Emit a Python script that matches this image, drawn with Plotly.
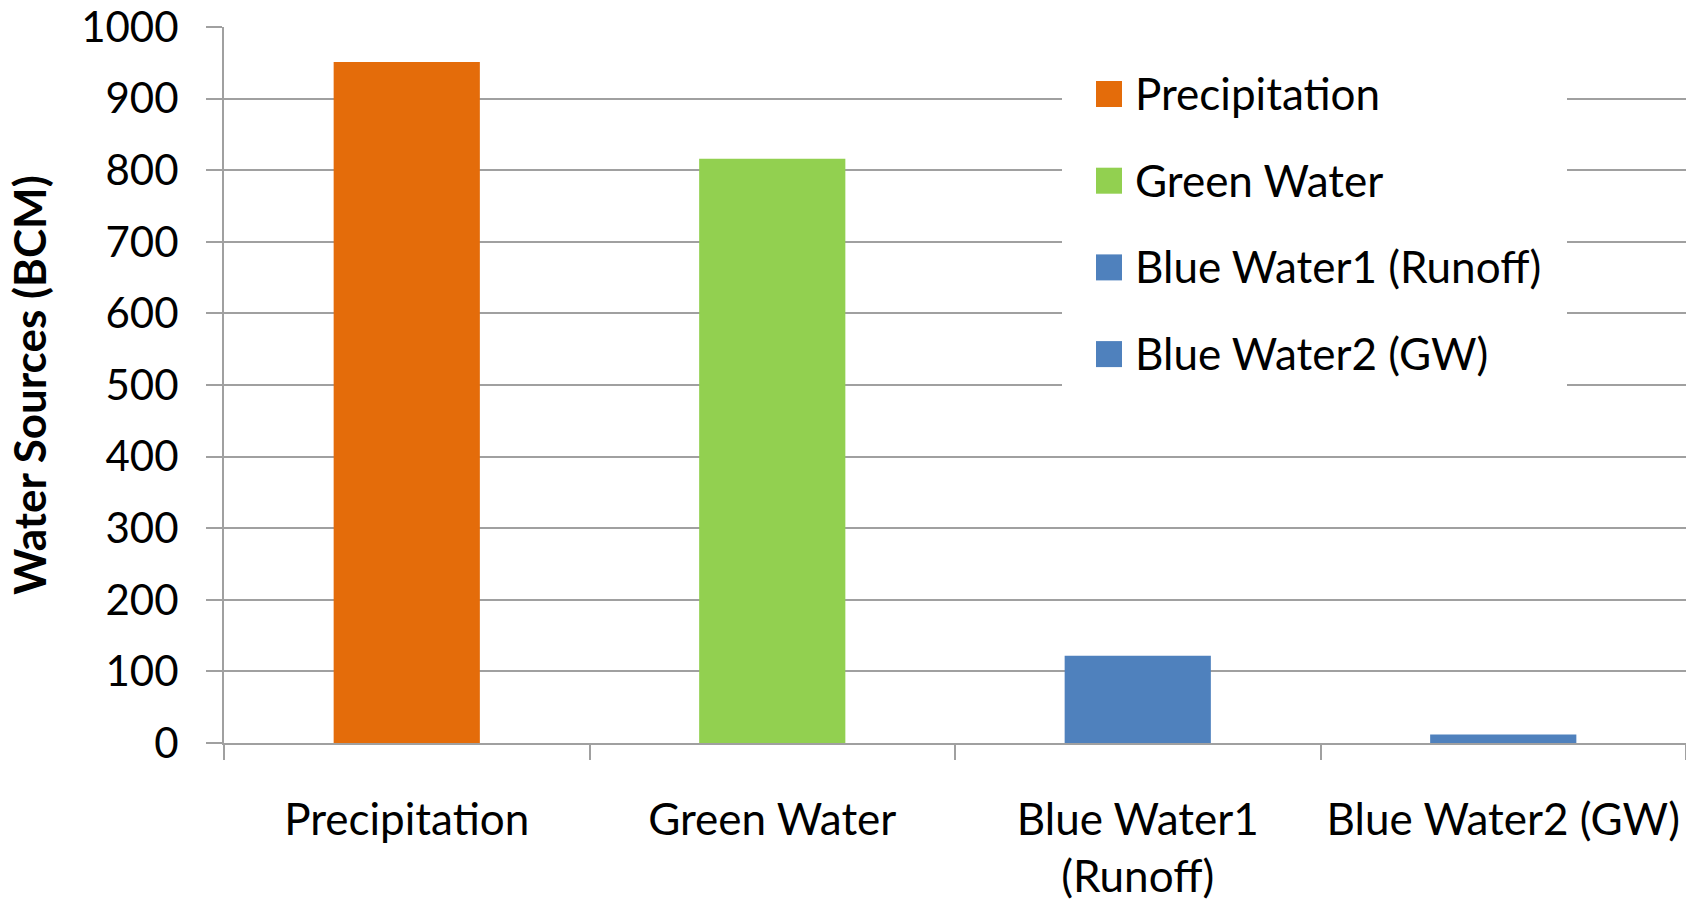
import plotly.graph_objects as go

# Water sources in billion cubic metres (BCM)
categories = ["Precipitation", "Green Water", "Blue Water1 (Runoff)", "Blue Water2 (GW)"]
tick_labels = ["Precipitation", "Green Water", "Blue Water1<br>(Runoff)", "Blue Water2 (GW)"]
values = [951, 816, 122, 12]
colors = ["#E46C0A", "#92D050", "#4F81BD", "#4F81BD"]
y_ticks = [0, 100, 200, 300, 400, 500, 600, 700, 800, 900, 1000]

W, H = 1686, 903
M_L, M_R, M_T, M_B = 224, 0, 27, 160
FONT = "Lato"
GRID = "#A0A0A0"

fig = go.Figure()
fig.add_trace(go.Bar(
    x=categories,
    y=values,
    marker=dict(color=colors, line=dict(width=0)),
    showlegend=False,
    hoverinfo="x+y",
))

fig.update_layout(
    width=W,
    height=H,
    margin=dict(l=M_L, r=M_R, t=M_T, b=M_B, pad=0),
    paper_bgcolor="white",
    plot_bgcolor="white",
    bargap=0.6,
    font=dict(family=FONT, size=44, color="black"),
    showlegend=False,
)

fig.update_xaxes(
    type="category",
    tickmode="array",
    tickvals=categories,
    ticktext=tick_labels,
    tickson="boundaries",
    ticks="outside",
    ticklen=15,
    tickwidth=2,
    tickcolor=GRID,
    showline=True,
    linecolor=GRID,
    linewidth=2,
    showgrid=False,
    tickfont=dict(family=FONT, size=44, color="black"),
    ticklabelstandoff=37,
)

fig.update_yaxes(
    range=[0, 1000],
    tickmode="array",
    tickvals=y_ticks,
    ticks="outside",
    ticklen=16,
    tickwidth=2,
    tickcolor=GRID,
    showline=True,
    linecolor=GRID,
    linewidth=2,
    showgrid=True,
    gridcolor=GRID,
    gridwidth=2,
    zeroline=False,
    tickfont=dict(family=FONT, size=42, color="black"),
    ticklabelstandoff=19,
    title=dict(
        text="<b>Water Sources (BCM)</b>",
        font=dict(family=FONT, size=44, color="black"),
        standoff=21,
    ),
)

# Legend panel: white backing over the gridlines, then one swatch + label per series
plot_w = W - M_L - M_R
plot_h = H - M_T - M_B


def px_x(px):
    return (px - M_L) / plot_w


def px_y(py):
    return (H - M_B - py) / plot_h


fig.add_shape(
    type="rect", xref="paper", yref="paper",
    x0=px_x(1062), x1=px_x(1567), y0=px_y(395), y1=px_y(55),
    fillcolor="white", line=dict(width=0), layer="above",
)

row0, row_step, half = 94, 86.7, 13
for i, (name, col) in enumerate(zip(categories, colors)):
    cy = row0 + i * row_step
    fig.add_shape(
        type="rect", xref="paper", yref="paper",
        x0=px_x(1096), x1=px_x(1122), y0=px_y(cy + half), y1=px_y(cy - half),
        fillcolor=col, line=dict(width=0), layer="above",
    )
    fig.add_annotation(
        xref="paper", yref="paper", x=px_x(1133), y=px_y(cy - 1),
        text=name, showarrow=False, xanchor="left", yanchor="middle",
        font=dict(family=FONT, size=44, color="black"),
    )

fig.write_html("out.html")
